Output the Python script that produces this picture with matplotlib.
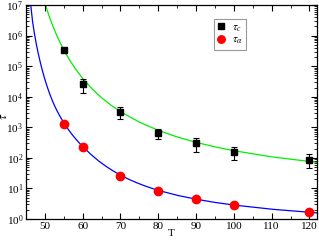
import numpy as np
import matplotlib
matplotlib.use("Agg")
import matplotlib.pyplot as plt
from matplotlib.ticker import MultipleLocator, LogLocator, NullFormatter

plt.rcParams['font.family'] = ['Liberation Serif', 'DejaVu Serif']
plt.rcParams['mathtext.fontset'] = 'stix'

# measured points
T = [55, 60, 70, 80, 90, 100, 120]
tau_c = [339000, 25700, 3240, 631, 316, 151, 87]
tau_c_hi = [339000, 38000, 4680, 871, 457, 224, 132]
tau_c_lo = [339000, 13200, 1820, 407, 151, 85, 46]
tau_a = [1260, 226, 24.8, 8.5, 4.5, 2.8, 1.7]

# fit curves (log10 tau)
T_fit_c = [50, 51, 52, 53, 54, 55, 56.5, 58, 60, 62.5, 65, 67.5, 70, 75, 80,
           85, 90, 95, 100, 110, 122]
log_fit_c = [7.06, 6.68, 6.345, 6.045, 5.776, 5.532, 5.208, 4.924, 4.598, 4.254,
             3.966, 3.722, 3.512, 3.168, 2.900, 2.684, 2.507, 2.360, 2.234, 2.033, 1.852]
T_fit_a = [46.25, 46.75, 47.25, 47.75, 48.25, 48.75, 49.25, 49.75, 50.25, 50.75,
           51.25, 51.75, 52.25, 52.75, 53.25, 53.75, 54.25, 54.75, 55.25, 56.25,
           57.25, 58.25, 59.25, 60.25, 62.25, 64.25, 66.25, 68.25, 70.25, 72.25,
           74.25, 76.25, 78.25, 80.25, 85.25, 90.25, 95.25, 100.25, 110.25, 122]
log_fit_a = [7.0, 6.45, 6.05, 5.71, 5.41, 5.14, 4.895, 4.67, 4.465, 4.275,
             4.10, 3.94, 3.79, 3.655, 3.53, 3.414, 3.306, 3.20, 3.10, 2.92,
             2.755, 2.605, 2.467, 2.34, 2.104, 1.896, 1.716, 1.558, 1.418, 1.296,
             1.188, 1.092, 1.006, 0.928, 0.768, 0.643, 0.538, 0.453, 0.318, 0.20]

fig = plt.figure(figsize=(3.19, 2.40), dpi=100)
ax = fig.add_axes([26/319, 21/240, 291/319, 214/240])

ax.plot(T_fit_c, 10**np.array(log_fit_c), color='#00ee00', lw=0.9, zorder=1)
ax.plot(T_fit_a, 10**np.array(log_fit_a), color='#0000ff', lw=0.9, zorder=1)

yerr = [np.array(tau_c) - np.array(tau_c_lo), np.array(tau_c_hi) - np.array(tau_c)]
ax.errorbar(T, tau_c, yerr=yerr, fmt='none', ecolor='black', elinewidth=0.8,
            capsize=2.5, capthick=0.8, zorder=2)
ax.plot(T, tau_c, 's', color='black', ms=5, label=r'$\tau_c$', zorder=3)
ax.plot(T, tau_a, 'o', color='red', ms=6, mec='red', label=r'$\tau_\alpha$', zorder=3)

ax.set_yscale('log')
ax.set_xlim(45, 122)
ax.set_ylim(1, 1e7)
ax.xaxis.set_major_locator(MultipleLocator(10))
ax.xaxis.set_minor_locator(MultipleLocator(5))
ax.yaxis.set_major_locator(LogLocator(base=10, numticks=10))
ax.yaxis.set_minor_locator(LogLocator(base=10, subs=np.arange(2, 10), numticks=20))
ax.yaxis.set_minor_formatter(NullFormatter())
ax.tick_params(which='both', direction='in', top=True, right=True, labelsize=8, pad=2)
ax.tick_params(which='major', length=4, width=0.8)
ax.tick_params(which='minor', length=2, width=0.6)
for s in ax.spines.values():
    s.set_linewidth(0.9)

ax.set_xlabel('T', fontsize=8, labelpad=-1)
ax.set_ylabel(r'$\tau$', fontsize=9)
ax.yaxis.set_label_coords(-0.055, 0.48)

leg = ax.legend(loc='upper left', bbox_to_anchor=(0.647, 0.935), fontsize=8,
                frameon=True, fancybox=False, handlelength=0.6, handletextpad=0.7,
                borderpad=0.3, labelspacing=0.15, borderaxespad=0.0, markerscale=0.9)
leg.get_frame().set_edgecolor('#808080')
leg.get_frame().set_linewidth(0.8)

fig.savefig('out.png', dpi=100)
